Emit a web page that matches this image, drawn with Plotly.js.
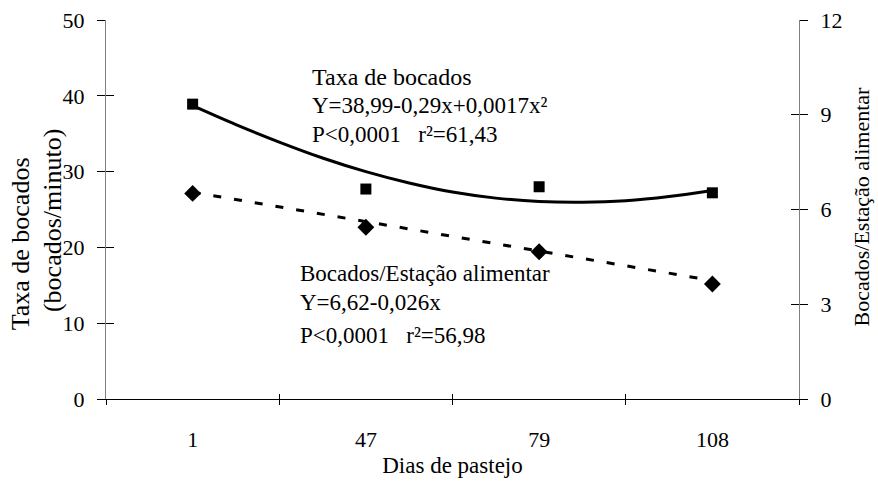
<!DOCTYPE html>
<html>
<head>
<meta charset="utf-8">
<script src="https://cdn.plot.ly/plotly-3.0.1.min.js"></script>
<style>html,body{margin:0;padding:0;background:#fff;}#chart{width:878px;height:484px;}</style>
</head>
<body>
<div id="chart"></div>
<script>
// Categories (days of grazing)
var days = ['1', '47', '79', '108'];
// Taxa de bocados (bocados/minuto) - observed means (left axis)
var taxaBocados = [38.9, 27.7, 28.0, 27.2];
// Bocados/Estação alimentar - observed means (right axis)
var bocadosEstacao = [6.51, 5.44, 4.66, 3.64];
// Fitted quadratic curve for Taxa de bocados (position in category units, value)
var curvePos = [0, 0.25, 0.5, 0.75, 1.0, 1.25, 1.5, 1.75, 2.0, 2.25, 2.5, 2.75, 3.0];
var curveVal = [38.7, 36.2, 33.9, 31.8, 30.0, 28.5, 27.3, 26.5, 26.05, 25.95, 26.15, 26.7, 27.5];
// Linear fit for Bocados/Estação alimentar, end points
var linePos = [0, 3];
var lineVal = [6.55, 3.75];
// Axis ticks
var leftTicks = [0, 10, 20, 30, 40, 50];
var rightTicks = [0, 3, 6, 9, 12];

var catPos = days.map(function (d, i) { return i; });
var bounds = [-0.5, 0.5, 1.5, 2.5, 3.5];
var serif = '"Liberation Serif", "Times New Roman", Times, serif';

var traces = [
  {x: curvePos, y: curveVal, mode: 'lines', line: {color: '#000', width: 3, shape: 'spline', smoothing: 1},
   xaxis: 'x', yaxis: 'y', hoverinfo: 'skip', showlegend: false},
  {x: catPos, y: taxaBocados, mode: 'markers', marker: {symbol: 'square', size: 11, color: '#000'},
   xaxis: 'x', yaxis: 'y', showlegend: false},
  {x: linePos, y: lineVal, mode: 'lines', line: {color: '#000', width: 3, dash: '8px,13px'},
   xaxis: 'x', yaxis: 'y2', hoverinfo: 'skip', showlegend: false},
  {x: catPos, y: bocadosEstacao, mode: 'markers', marker: {symbol: 'diamond', size: 13, color: '#000'},
   xaxis: 'x', yaxis: 'y2', showlegend: false},
  // dummy traces to activate overlay axes used for the crossing tick marks
  {x: [null], y: [null], xaxis: 'x3', yaxis: 'y3', showlegend: false, hoverinfo: 'skip'},
  {x: [null], y: [null], xaxis: 'x3', yaxis: 'y4', showlegend: false, hoverinfo: 'skip'}
];

var tickFont = {family: serif, size: 22, color: '#000'};
var annFont = {family: serif, size: 23, color: '#000'};
var nb = '\u00A0\u00A0\u00A0';

var layout = {
  width: 878, height: 484,
  margin: {l: 106, r: 79, t: 20, b: 85},
  paper_bgcolor: '#fff', plot_bgcolor: '#fff',
  font: {family: serif, color: '#000'},
  showlegend: false,
  xaxis: {
    range: [-0.5, 3.5], tickmode: 'array', tickvals: catPos, ticktext: days, ticks: '',
    ticklabelstandoff: 21, tickfont: tickFont,
    showline: true, linecolor: '#000', linewidth: 1, showgrid: false, zeroline: false,
    minor: {tickmode: 'array', tickvals: bounds, ticks: 'outside', ticklen: 5, tickcolor: '#000', tickwidth: 1, showgrid: false},
    title: {text: 'Dias de pastejo', font: {family: serif, size: 23, color: '#000'}, standoff: 5}
  },
  xaxis3: {
    overlaying: 'x', anchor: 'y', range: [-0.5, 3.5], tickmode: 'array', tickvals: bounds,
    ticks: 'inside', ticklen: 5, tickcolor: '#000', showticklabels: false, showline: false,
    showgrid: false, zeroline: false
  },
  yaxis: {
    range: [0, 50], tickmode: 'array', tickvals: leftTicks, ticks: 'outside', ticklen: 8, tickcolor: '#000',
    ticklabelstandoff: 8, tickfont: tickFont,
    showline: true, linecolor: '#808080', linewidth: 1, showgrid: false, zeroline: false
  },
  yaxis3: {
    overlaying: 'y', anchor: 'x', side: 'left', range: [0, 50], tickmode: 'array', tickvals: leftTicks,
    ticks: 'inside', ticklen: 8, tickcolor: '#000', showticklabels: false, showline: false,
    showgrid: false, zeroline: false
  },
  yaxis2: {
    overlaying: 'y', anchor: 'x', side: 'right', range: [0, 12], tickmode: 'array', tickvals: rightTicks,
    ticks: 'outside', ticklen: 8, tickcolor: '#000', ticklabelstandoff: 8, tickfont: tickFont,
    showline: true, linecolor: '#808080', linewidth: 1, showgrid: false, zeroline: false
  },
  yaxis4: {
    overlaying: 'y', anchor: 'x', side: 'right', range: [0, 12], tickmode: 'array', tickvals: rightTicks,
    ticks: 'inside', ticklen: 8, tickcolor: '#000', showticklabels: false, showline: false,
    showgrid: false, zeroline: false
  },
  annotations: [
    {xref: 'paper', yref: 'paper', x: -0.123, y: 0.41, text: 'Taxa de bocados', textangle: -90,
     showarrow: false, font: {family: serif, size: 26, color: '#000'}, xanchor: 'center', yanchor: 'middle'},
    {xref: 'paper', yref: 'paper', x: -0.078, y: 0.472, text: '(bocados/minuto)', textangle: -90,
     showarrow: false, font: {family: serif, size: 26, color: '#000'}, xanchor: 'center', yanchor: 'middle'},
    {xref: 'paper', yref: 'paper', x: 1.09, y: 0.509, text: 'Bocados/Estação alimentar', textangle: -90,
     showarrow: false, font: {family: serif, size: 22, color: '#000'}, xanchor: 'center', yanchor: 'middle'},

    {xref: 'x', yref: 'y', x: 0.68, y: 42.5, text: 'Taxa de bocados', showarrow: false, font: {family: serif, size: 24, color: '#000'}, xanchor: 'left', yanchor: 'middle'},
    {xref: 'x', yref: 'y', x: 0.68, y: 38.7, text: 'Y=38,99-0,29x+0,0017x²', showarrow: false, font: annFont, xanchor: 'left', yanchor: 'middle'},
    {xref: 'x', yref: 'y', x: 0.68, y: 34.9, text: 'P<0,0001' + nb + 'r²=61,43', showarrow: false, font: annFont, xanchor: 'left', yanchor: 'middle'},

    {xref: 'x', yref: 'y', x: 0.61, y: 16.5, text: 'Bocados/Estação alimentar', showarrow: false, font: annFont, xanchor: 'left', yanchor: 'middle'},
    {xref: 'x', yref: 'y', x: 0.61, y: 12.7, text: 'Y=6,62-0,026x', showarrow: false, font: annFont, xanchor: 'left', yanchor: 'middle'},
    {xref: 'x', yref: 'y', x: 0.61, y: 8.4, text: 'P<0,0001' + nb + 'r²=56,98', showarrow: false, font: annFont, xanchor: 'left', yanchor: 'middle'}
  ]
};

Plotly.newPlot('chart', traces, layout, {displayModeBar: false, staticPlot: true});
</script>
</body>
</html>
